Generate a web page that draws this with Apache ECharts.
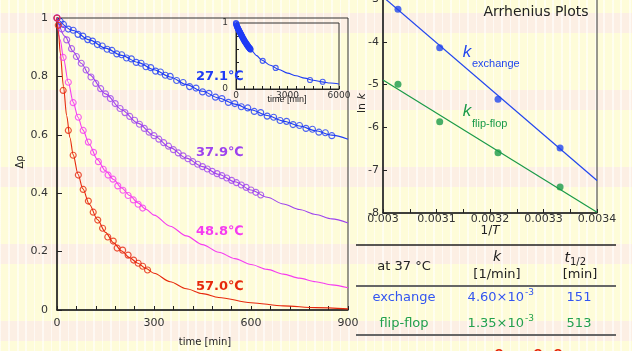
<!DOCTYPE html>
<html><head><meta charset="utf-8">
<script src="https://cdn.jsdelivr.net/npm/echarts@6/dist/echarts.min.js"></script>
<style>
html,body{margin:0;padding:0;}
#c{width:632px;height:351px;background-color:#fefcd9;
background-image:
 repeating-linear-gradient(90deg, rgba(255,255,255,0.6) 0px, rgba(255,255,255,0.6) 1.5px, rgba(255,255,255,0) 1.5px, rgba(255,255,255,0) 8.5px),
 repeating-linear-gradient(180deg, rgba(252,239,228,0) 0px, rgba(252,239,228,0) 13px, rgba(252,239,228,1) 13px, rgba(252,239,228,1) 33px, rgba(252,239,228,0) 33px, rgba(252,239,228,0) 77px);}
</style></head><body><div id="c"></div><script>
// ---- data ----
const mainXLabels = ['0','300','600','900'];
const insetXLabels = ['0','3000','6000'];
const insetYLabels = ['0','1'];
const tempLabels = ['27.1℃','37.9℃','48.8℃','57.0℃'];

const blueT = [0,10,20,35,50,65,80,95,110,125,140,155,170,185,200,215,230,245,260,275,290,305,320,335,350,370,390,410,430,450,470,490,510,530,550,570,590,610,630,650,670,690,710,730,750,770,790,810,830,850];
const blueV = [1.000,0.988,0.978,0.962,0.958,0.944,0.938,0.926,0.921,0.909,0.904,0.893,0.889,0.877,0.874,0.863,0.860,0.848,0.845,0.833,0.830,0.818,0.815,0.804,0.800,0.786,0.779,0.765,0.760,0.747,0.742,0.729,0.724,0.711,0.707,0.696,0.692,0.680,0.676,0.664,0.660,0.649,0.646,0.635,0.632,0.622,0.619,0.609,0.607,0.597];
const blueFitT = [0,50,100,150,200,250,300,350,400,450,500,550,600,650,700,750,800,850,900];
const blueFitV = [1,0.957,0.925,0.897,0.872,0.848,0.823,0.798,0.772,0.749,0.726,0.705,0.686,0.666,0.647,0.630,0.614,0.599,0.585];

const purpleT = [0,15,30,45,60,75,90,105,120,135,150,165,180,195,210,225,240,255,270,285,300,315,330,345,360,375,390,405,420,435,450,465,480,495,510,525,540,555,570,585,600,615,630];
const purpleV = [1.000,0.962,0.925,0.895,0.868,0.845,0.822,0.798,0.776,0.758,0.740,0.724,0.707,0.690,0.676,0.663,0.650,0.636,0.622,0.609,0.597,0.585,0.573,0.561,0.549,0.538,0.528,0.518,0.508,0.499,0.491,0.483,0.475,0.467,0.460,0.452,0.444,0.436,0.428,0.420,0.411,0.403,0.394];
const purpleFitT = [0,25,50,75,100,150,200,250,300,350,400,450,500,550,600,650,700,750,800,850,900];
const purpleFitV = [1,0.937,0.885,0.845,0.806,0.740,0.686,0.640,0.597,0.556,0.520,0.491,0.465,0.439,0.411,0.386,0.363,0.344,0.327,0.312,0.298];

const magentaT = [0,19,35,50,66,81,97,113,128,143,158,173,188,204,220,236,251,265];
const magentaV = [1,0.865,0.78,0.71,0.66,0.615,0.575,0.54,0.508,0.482,0.462,0.448,0.425,0.41,0.392,0.377,0.362,0.349];
const magentaFitT = [0,10,20,35,50,65,80,100,125,150,175,200,225,250,275,300,350,400,450,500,550,600,650,700,750,800,850,900];
const magentaFitV = [1,0.925,0.862,0.78,0.712,0.66,0.617,0.567,0.515,0.477,0.447,0.418,0.392,0.367,0.345,0.325,0.287,0.254,0.224,0.198,0.176,0.156,0.139,0.123,0.109,0.097,0.086,0.076];

const redT = [0,4,19,35,50,66,81,97,112,126,141,157,174,186,203,220,237,251,265,280];
const redV = [1,0.975,0.752,0.615,0.53,0.462,0.413,0.373,0.335,0.308,0.28,0.25,0.236,0.212,0.205,0.188,0.171,0.16,0.15,0.137];
const redFitT = [0,5,10,20,30,40,50,65,80,100,125,150,175,200,225,250,275,300,350,400,450,500,600,700,800,900];
const redFitV = [1,0.945,0.88,0.765,0.665,0.59,0.532,0.465,0.415,0.362,0.31,0.266,0.23,0.202,0.179,0.16,0.142,0.126,0.097,0.073,0.056,0.043,0.025,0.014,0.008,0.004];

const insetExtraT = [1555,2312,4311,5050];
const insetExtraV = [0.427,0.32,0.136,0.11];
const insetFitT = [0,300,600,900,1200,1500,2000,2500,3000,3500,4000,4500,5000,5500,6000];
const insetFitV = [1,0.823,0.686,0.585,0.505,0.44,0.36,0.295,0.24,0.2,0.165,0.132,0.108,0.09,0.075];

const invT = [0.003028,0.003106,0.003215,0.003331];
const lnKex = [-3.24,-4.14,-5.34,-6.48];
const lnKff = [-4.99,-5.87,-6.59,-7.39];
const fitX = [0.003,0.0034];
const fitEx = [-2.95,-7.24];
const fitFf = [-4.89,-7.98];

const rowNames = ['exchange','flip-flop'];
const kMant = ['4.60×10','1.35×10'];
const kExp = ['-3','-3'];
const halfLife = ['151','513'];

// ---- build ----
const zip = (a,b) => a.map((v,i)=>[v,b[i]]);
const C = {blue:'#1f3cf5', purple:'#9d42ee', magenta:'#f53cf0', red:'#e6280c', aBlue:'#2246ee', aGreen:'#1a9a48', tBlue:'#3355f0', tGreen:'#22a04e'};
const F = 'DejaVu Sans';
const axisCol = '#222';

function fitLine(xi, yi, d, col, w){
  return {type:'line', xAxisIndex:xi, yAxisIndex:yi, data:d, showSymbol:false, symbol:'none', smooth:0.3, smoothMonotone:'x', lineStyle:{color:col, width:w||1.1}, silent:true, z:2};
}
function circles(xi, yi, d, col, s){
  return {type:'scatter', xAxisIndex:xi, yAxisIndex:yi, data:d, symbol:'circle', symbolSize:s||6, itemStyle:{color:'rgba(0,0,0,0)', borderColor:col, borderWidth:1.15}, silent:true, z:3};
}
function dots(xi, yi, d, col){
  return {type:'scatter', xAxisIndex:xi, yAxisIndex:yi, data:d, symbol:'circle', symbolSize:7, itemStyle:{color:col}, silent:true, z:3};
}
function txt(x, y, text, opt){
  opt = opt || {};
  const st = {text:text, fill:opt.fill||'#222', font:opt.font||('12px '+F),
    textAlign:opt.align||'center', align:opt.align||'center',
    textVerticalAlign:'middle', verticalAlign:'middle'};
  if (opt.rich) st.rich = opt.rich;
  const el = {type:'text', x:x, y:y, style:st, z:10, silent:true};
  if (opt.rotation) el.rotation = opt.rotation;
  return el;
}
function hline(x1,x2,y,col,w){
  return {type:'line', shape:{x1:x1,y1:y,x2:x2,y2:y}, style:{stroke:col,lineWidth:w}, z:10, silent:true};
}

const graphics = [];
// main chart labels
const tempCols = [C.blue, C.purple, C.magenta, C.red];
const tempY = [77, 153, 232, 287];
tempLabels.forEach((t,i)=>graphics.push(txt(196, tempY[i], t, {fill:tempCols[i], font:'bold 13px '+F, align:'left'})));
graphics.push(txt(205, 342, 'time [min]', {font:'10px '+F}));
graphics.push(txt(20, 162, 'Δρ', {font:'10px '+F, rotation:Math.PI/2}));
graphics.push(txt(287, 100, 'time [min]', {font:'9px Liberation Sans'}));
// Arrhenius labels
graphics.push(txt(536, 12, 'Arrhenius Plots', {font:'14px '+F}));
graphics.push(txt(467, 52, 'k', {font:'italic 17px Liberation Sans', fill:C.aBlue}));
graphics.push(txt(472, 64, 'exchange', {font:'11px Liberation Sans', fill:C.aBlue, align:'left'}));
graphics.push(txt(467, 111, 'k', {font:'italic 17px Liberation Sans', fill:C.aGreen}));
graphics.push(txt(472, 124, 'flip-flop', {font:'11px Liberation Sans', fill:C.aGreen, align:'left'}));
graphics.push(txt(490, 231, '{n|1/}{i|T}', {font:'12px '+F, rich:{n:{fontSize:12, fontFamily:F, fill:'#222', color:'#222'}, i:{fontSize:12, fontFamily:F, fontStyle:'italic', fill:'#222', color:'#222'}}}));
graphics.push(txt(362, 103, '{n|ln }{i|k}', {font:'11px '+F, rotation:Math.PI/2, rich:{n:{fontSize:11, fontFamily:F, fill:'#222', color:'#222'}, i:{fontSize:11, fontFamily:F, fontStyle:'italic', fill:'#222', color:'#222'}}}));
// table
graphics.push(hline(356, 616, 245, '#222', 1.5));
graphics.push(hline(356, 616, 286, '#666', 2));
graphics.push(hline(356, 616, 335, '#666', 2));
graphics.push(txt(404, 267, 'at 37 °C', {font:'13px '+F}));
graphics.push(txt(497, 257, 'k', {font:'italic 14px '+F}));
graphics.push(txt(497, 275, '[1/min]', {font:'13px '+F}));
graphics.push(txt(570, 258, 't', {font:'italic 14px '+F, align:'right'}));
graphics.push(txt(570, 262, '1/2', {font:'10px '+F, align:'left'}));
graphics.push(txt(580, 275, '[min]', {font:'13px '+F}));
const rowY = [298, 324];
const rowCols = [C.tBlue, C.tGreen];
rowNames.forEach((r,i)=>{
  graphics.push(txt(404, rowY[i], r, {font:'13px '+F, fill:rowCols[i]}));
  graphics.push(txt(524, rowY[i], kMant[i], {font:'13px '+F, fill:rowCols[i], align:'right'}));
  graphics.push(txt(525, rowY[i]-5, kExp[i], {font:'9px '+F, fill:rowCols[i], align:'left'}));
  graphics.push(txt(579, rowY[i], halfLife[i], {font:'13px '+F, fill:rowCols[i]}));
});
// cut-off red glyph tops at the bottom edge
graphics.push(txt(499, 353, 'o', {font:'bold 13px '+F, fill:'#e6280c'}));
graphics.push(txt(538, 353, 'o', {font:'bold 13px '+F, fill:'#e6280c'}));
graphics.push(txt(558, 353, 'o', {font:'bold 13px '+F, fill:'#e6280c'}));

const lblBase = {color:'#333', fontFamily:F};
const chart = echarts.init(document.getElementById('c'), null, {renderer:'canvas'});
chart.setOption({
  animation:false,
  backgroundColor:'transparent',
  grid:[
    {left:57, top:18, width:291, height:292, show:true, borderColor:'#333', borderWidth:1, backgroundColor:'transparent', outerBoundsMode:'none', containLabel:false},
    {left:236, top:23, width:103, height:66, show:true, borderColor:'#333', borderWidth:1, backgroundColor:'transparent', outerBoundsMode:'none', containLabel:false},
    {left:383, top:-1, width:214, height:214, show:true, borderColor:'#333', borderWidth:1, backgroundColor:'transparent', outerBoundsMode:'none', containLabel:false}
  ],
  xAxis:[
    {gridIndex:0, type:'value', min:0, max:900, interval:60,
     axisLine:{onZero:false, lineStyle:{color:axisCol, width:1.5}},
     axisTick:{inside:true, length:4, lineStyle:{color:axisCol}},
     axisLabel:Object.assign({fontSize:11, margin:8, formatter:v=>mainXLabels.includes(String(v))?String(v):''}, lblBase),
     splitLine:{show:false}},
    {gridIndex:1, type:'value', min:0, max:6000, interval:500,
     axisLine:{onZero:false, lineStyle:{color:axisCol, width:1}},
     axisTick:{inside:true, length:3, lineStyle:{color:axisCol}},
     axisLabel:Object.assign({fontSize:9, margin:2, formatter:v=>insetXLabels.includes(String(v))?String(v):''}, lblBase),
     splitLine:{show:false}},
    {gridIndex:2, type:'value', min:0.003, max:0.0034, interval:0.00005,
     axisLine:{onZero:false, lineStyle:{color:axisCol, width:1.5}},
     axisTick:{inside:true, length:4, lineStyle:{color:axisCol}},
     axisLabel:Object.assign({fontSize:11, margin:1, formatter:v=>{const n=Math.round(v*100000); return n%10===0 ? String(+(n/100000).toFixed(4)) : '';}}, lblBase),
     splitLine:{show:false}}
  ],
  yAxis:[
    {gridIndex:0, type:'value', min:0, max:1, interval:0.2,
     axisLine:{onZero:false, lineStyle:{color:axisCol, width:1.5}},
     axisTick:{inside:true, length:5, lineStyle:{color:axisCol}},
     axisLabel:Object.assign({fontSize:11, margin:9}, lblBase),
     splitLine:{show:false}},
    {gridIndex:1, type:'value', min:0, max:1, interval:0.2,
     axisLine:{onZero:false, lineStyle:{color:axisCol, width:1}},
     axisTick:{inside:true, length:3, lineStyle:{color:axisCol}},
     axisLabel:Object.assign({fontSize:9, margin:8, formatter:v=>insetYLabels.includes(String(v))?String(v):''}, lblBase),
     splitLine:{show:false}},
    {gridIndex:2, type:'value', min:-8, max:-3, interval:1,
     axisLine:{onZero:false, lineStyle:{color:axisCol, width:1.5}},
     axisTick:{inside:true, length:4, lineStyle:{color:axisCol}},
     axisLabel:Object.assign({fontSize:11, margin:4}, lblBase),
     splitLine:{show:false}}
  ],
  series:[
    fitLine(0,0,zip(blueFitT,blueFitV),C.blue), circles(0,0,zip(blueT,blueV),C.blue),
    fitLine(0,0,zip(purpleFitT,purpleFitV),C.purple), circles(0,0,zip(purpleT,purpleV),C.purple),
    fitLine(0,0,zip(magentaFitT,magentaFitV),C.magenta), circles(0,0,zip(magentaT,magentaV),C.magenta),
    fitLine(0,0,zip(redFitT,redFitV),C.red), circles(0,0,zip(redT,redV),C.red),
    fitLine(1,1,zip(insetFitT,insetFitV),C.blue), circles(1,1,zip(blueT,blueV).concat(zip(insetExtraT,insetExtraV)),C.blue,5),
    {type:'line', xAxisIndex:2, yAxisIndex:2, data:zip(fitX,fitEx), showSymbol:false, symbol:'none', lineStyle:{color:C.aBlue, width:1.2}, silent:true},
    {type:'line', xAxisIndex:2, yAxisIndex:2, data:zip(fitX,fitFf), showSymbol:false, symbol:'none', lineStyle:{color:C.aGreen, width:1.2}, silent:true},
    dots(2,2,zip(invT,lnKex),C.aBlue), dots(2,2,zip(invT,lnKff),C.aGreen)
  ],
  graphic:{elements:graphics}
});
</script></body></html>
